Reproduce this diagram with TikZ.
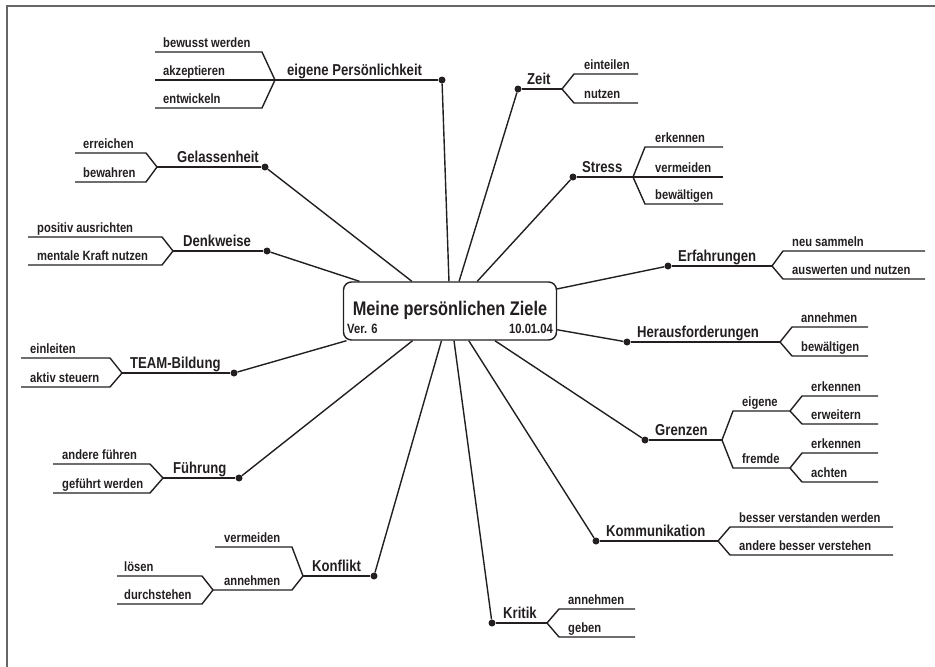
\documentclass[tikz,border=0pt]{standalone}
\usepackage{fontspec}
\newfontfamily\condfont{Liberation Sans}[FakeStretch=0.83]
\newcommand\leaffont{\condfont\bfseries\fontsize{13.5}{15}\selectfont}
\newcommand\hubfont{\condfont\bfseries\fontsize{15.8}{18}\selectfont}
\newcommand\titlefont{\condfont\bfseries\fontsize{19.7}{22}\selectfont}
\definecolor{ink}{HTML}{231F20}
\definecolor{framegray}{HTML}{666666}
\tikzset{
    dot/.style={circle, fill=ink, inner sep=0pt, minimum size=7pt},
    hub/.style={anchor=base west, inner sep=0pt, text=ink, font=\hubfont},
    leaf/.style={anchor=base west, inner sep=0pt, text=ink, font=\leaffont},
    branch/.style={draw=ink, line width=1.4pt},
}
\begin{document}
\begin{tikzpicture}[x=1pt, y=-1pt]
    \useasboundingbox (0,0) rectangle (935,667);
    \draw[framegray, line width=2pt] (7,672) -- (7,5.5) -- (940,5.5);

    % Mitte
    \node[draw=ink, line width=1.4pt, rounded corners=8pt, minimum width=213pt, minimum height=58pt] (ziel) at (450,311) {};
    \node[text=ink, font=\titlefont, anchor=base] (titel) at (450,315) {Meine persönlichen Ziele};
    \node[leaf, font=\leaffont] (ver) at (347,333) {Ver. 6};
    \node[leaf, anchor=base east] (datum) at (553,333) {10.01.04};

    % eigene Persoenlichkeit
    \node[dot] (pers) at (442,80) {};
    \coordinate (jpers) at (275,80);
    \node[hub] (lpers) at (287,75.5) {eigene Persönlichkeit};
    \coordinate (pers1i) at (262,52);  \coordinate (pers1o) at (155,52);
    \coordinate (pers2o) at (155,80);
    \coordinate (pers3i) at (262,108); \coordinate (pers3o) at (155,108);
    \node[leaf] (lpers1) at (163,47.5) {bewusst werden};
    \node[leaf] (lpers2) at (163,75.5) {akzeptieren};
    \node[leaf] (lpers3) at (163,103.5) {entwickeln};
    \draw[branch] (pers) -- (jpers);
    \draw[branch] (jpers) -- (pers1i) -- (pers1o);
    \draw[branch] (jpers) -- (pers2o);
    \draw[branch] (jpers) -- (pers3i) -- (pers3o);

    % Gelassenheit
    \node[dot] (gel) at (265,167) {};
    \coordinate (jgel) at (157,167);
    \node[hub] (lgel) at (177,162) {Gelassenheit};
    \coordinate (gel1i) at (146,153); \coordinate (gel1o) at (75,153);
    \coordinate (gel2i) at (146,182); \coordinate (gel2o) at (75,182);
    \node[leaf] (lgel1) at (83,148.5) {erreichen};
    \node[leaf] (lgel2) at (83,177.5) {bewahren};
    \draw[branch] (gel) -- (jgel);
    \draw[branch] (jgel) -- (gel1i) -- (gel1o);
    \draw[branch] (jgel) -- (gel2i) -- (gel2o);

    % Denkweise
    \node[dot] (denk) at (267,251) {};
    \coordinate (jdenk) at (173,251);
    \node[hub] (ldenk) at (183,246) {Denkweise};
    \coordinate (denk1i) at (162,237); \coordinate (denk1o) at (28,237);
    \coordinate (denk2i) at (162,265); \coordinate (denk2o) at (28,265);
    \node[leaf] (ldenk1) at (37,232.5) {positiv ausrichten};
    \node[leaf] (ldenk2) at (37,260.5) {mentale Kraft nutzen};
    \draw[branch] (denk) -- (jdenk);
    \draw[branch] (jdenk) -- (denk1i) -- (denk1o);
    \draw[branch] (jdenk) -- (denk2i) -- (denk2o);

    % TEAM-Bildung
    \node[dot] (team) at (234,373) {};
    \coordinate (jteam) at (122,373);
    \node[hub] (lteam) at (130,368) {TEAM-Bildung};
    \coordinate (team1i) at (110,358); \coordinate (team1o) at (21,358);
    \coordinate (team2i) at (110,387); \coordinate (team2o) at (21,387);
    \node[leaf] (lteam1) at (30,353.5) {einleiten};
    \node[leaf] (lteam2) at (30,382.5) {aktiv steuern};
    \draw[branch] (team) -- (jteam);
    \draw[branch] (jteam) -- (team1i) -- (team1o);
    \draw[branch] (jteam) -- (team2i) -- (team2o);

    % Fuehrung
    \node[dot] (fuehr) at (239,478) {};
    \coordinate (jfuehr) at (163,478);
    \node[hub] (lfuehr) at (173,473) {Führung};
    \coordinate (fuehr1i) at (150,464); \coordinate (fuehr1o) at (53,464);
    \coordinate (fuehr2i) at (150,493); \coordinate (fuehr2o) at (53,493);
    \node[leaf] (lfuehr1) at (62,459.5) {andere führen};
    \node[leaf] (lfuehr2) at (62,488.5) {geführt werden};
    \draw[branch] (fuehr) -- (jfuehr);
    \draw[branch] (jfuehr) -- (fuehr1i) -- (fuehr1o);
    \draw[branch] (jfuehr) -- (fuehr2i) -- (fuehr2o);

    % Konflikt
    \node[dot] (konf) at (374,576) {};
    \coordinate (jkonf) at (303,576);
    \node[hub] (lkonf) at (312,571) {Konflikt};
    \coordinate (konf1i) at (292,547); \coordinate (konf1o) at (215,547);
    \coordinate (konf2i) at (292,590); \coordinate (jannehm) at (213,590);
    \node[leaf] (lkonf1) at (224,542.5) {vermeiden};
    \node[leaf] (lkonf2) at (224,585.5) {annehmen};
    \coordinate (ann1i) at (202,576); \coordinate (ann1o) at (117,576);
    \coordinate (ann2i) at (202,604); \coordinate (ann2o) at (117,604);
    \node[leaf] (lann1) at (124,571.5) {lösen};
    \node[leaf] (lann2) at (124,599.5) {durchstehen};
    \draw[branch] (konf) -- (jkonf);
    \draw[branch] (jkonf) -- (konf1i) -- (konf1o);
    \draw[branch] (jkonf) -- (konf2i) -- (jannehm);
    \draw[branch] (jannehm) -- (ann1i) -- (ann1o);
    \draw[branch] (jannehm) -- (ann2i) -- (ann2o);

    % Kritik
    \node[dot] (krit) at (492,623) {};
    \coordinate (jkrit) at (547,623);
    \node[hub] (lkrit) at (503,618) {Kritik};
    \coordinate (krit1i) at (559,609); \coordinate (krit1o) at (635,609);
    \coordinate (krit2i) at (559,637); \coordinate (krit2o) at (635,637);
    \node[leaf] (lkrit1) at (568,604.5) {annehmen};
    \node[leaf] (lkrit2) at (568,632.5) {geben};
    \draw[branch] (krit) -- (jkrit);
    \draw[branch] (jkrit) -- (krit1i) -- (krit1o);
    \draw[branch] (jkrit) -- (krit2i) -- (krit2o);

    % Kommunikation
    \node[dot] (komm) at (596,541) {};
    \coordinate (jkomm) at (718,541);
    \node[hub] (lkomm) at (606,536) {Kommunikation};
    \coordinate (komm1i) at (730,527); \coordinate (komm1o) at (893,527);
    \coordinate (komm2i) at (730,555); \coordinate (komm2o) at (893,555);
    \node[leaf] (lkomm1) at (739,522.5) {besser verstanden werden};
    \node[leaf] (lkomm2) at (739,550.5) {andere besser verstehen};
    \draw[branch] (komm) -- (jkomm);
    \draw[branch] (jkomm) -- (komm1i) -- (komm1o);
    \draw[branch] (jkomm) -- (komm2i) -- (komm2o);

    % Grenzen
    \node[dot] (grenz) at (645,440) {};
    \coordinate (jgrenz) at (722,440);
    \node[hub] (lgrenz) at (655,435) {Grenzen};
    \coordinate (eig0) at (733,411); \coordinate (jeig) at (790,411);
    \coordinate (frem0) at (733,468); \coordinate (jfrem) at (790,468);
    \node[leaf] (leig) at (742,406.5) {eigene};
    \node[leaf] (lfrem) at (742,463.5) {fremde};
    \coordinate (eig1i) at (802,396); \coordinate (eig1o) at (878,396);
    \coordinate (eig2i) at (802,424); \coordinate (eig2o) at (878,424);
    \coordinate (frem1i) at (802,453); \coordinate (frem1o) at (878,453);
    \coordinate (frem2i) at (802,482); \coordinate (frem2o) at (878,482);
    \node[leaf] (leig1) at (811,391.5) {erkennen};
    \node[leaf] (leig2) at (811,419.5) {erweitern};
    \node[leaf] (lfrem1) at (811,448.5) {erkennen};
    \node[leaf] (lfrem2) at (811,477.5) {achten};
    \draw[branch] (grenz) -- (jgrenz);
    \draw[branch] (jgrenz) -- (eig0) -- (jeig);
    \draw[branch] (jgrenz) -- (frem0) -- (jfrem);
    \draw[branch] (jeig) -- (eig1i) -- (eig1o);
    \draw[branch] (jeig) -- (eig2i) -- (eig2o);
    \draw[branch] (jfrem) -- (frem1i) -- (frem1o);
    \draw[branch] (jfrem) -- (frem2i) -- (frem2o);

    % Herausforderungen
    \node[dot] (heraus) at (627,342) {};
    \coordinate (jheraus) at (780,342);
    \node[hub] (lheraus) at (637,337) {Herausforderungen};
    \coordinate (heraus1i) at (792,327); \coordinate (heraus1o) at (868,327);
    \coordinate (heraus2i) at (792,356); \coordinate (heraus2o) at (868,356);
    \node[leaf] (lheraus1) at (801,322.5) {annehmen};
    \node[leaf] (lheraus2) at (801,351.5) {bewältigen};
    \draw[branch] (heraus) -- (jheraus);
    \draw[branch] (jheraus) -- (heraus1i) -- (heraus1o);
    \draw[branch] (jheraus) -- (heraus2i) -- (heraus2o);

    % Erfahrungen
    \node[dot] (erf) at (668,266) {};
    \coordinate (jerf) at (772,266);
    \node[hub] (lerf) at (678,261) {Erfahrungen};
    \coordinate (erf1i) at (783,251); \coordinate (erf1o) at (925,251);
    \coordinate (erf2i) at (783,279); \coordinate (erf2o) at (925,279);
    \node[leaf] (lerf1) at (792,246.5) {neu sammeln};
    \node[leaf] (lerf2) at (792,274.5) {auswerten und nutzen};
    \draw[branch] (erf) -- (jerf);
    \draw[branch] (jerf) -- (erf1i) -- (erf1o);
    \draw[branch] (jerf) -- (erf2i) -- (erf2o);

    % Stress
    \node[dot] (stress) at (573,177) {};
    \coordinate (jstress) at (633,177);
    \node[hub] (lstress) at (582,172) {Stress};
    \coordinate (stress1i) at (645,147); \coordinate (stress1o) at (723,147);
    \coordinate (stress2o) at (723,177);
    \coordinate (stress3i) at (645,204); \coordinate (stress3o) at (723,204);
    \node[leaf] (lstress1) at (655,142.5) {erkennen};
    \node[leaf] (lstress2) at (655,172.5) {vermeiden};
    \node[leaf] (lstress3) at (655,199.5) {bewältigen};
    \draw[branch] (stress) -- (jstress);
    \draw[branch] (jstress) -- (stress1i) -- (stress1o);
    \draw[branch] (jstress) -- (stress2o);
    \draw[branch] (jstress) -- (stress3i) -- (stress3o);

    % Zeit
    \node[dot] (zeit) at (518,89) {};
    \coordinate (jzeit) at (562,89);
    \node[hub] (lzeit) at (527,84) {Zeit};
    \coordinate (zeit1i) at (574,74); \coordinate (zeit1o) at (638,74);
    \coordinate (zeit2i) at (574,103); \coordinate (zeit2o) at (638,103);
    \node[leaf] (lzeit1) at (584,69.5) {einteilen};
    \node[leaf] (lzeit2) at (584,98.5) {nutzen};
    \draw[branch] (zeit) -- (jzeit);
    \draw[branch] (jzeit) -- (zeit1i) -- (zeit1o);
    \draw[branch] (jzeit) -- (zeit2i) -- (zeit2o);

    % Verbindungen zur Mitte
    \foreach \ast in {pers, gel, denk, team, fuehr, konf, krit, komm, grenz, heraus, erf, stress, zeit}
        \draw[branch] (\ast) -- (ziel);
\end{tikzpicture}
\end{document}
